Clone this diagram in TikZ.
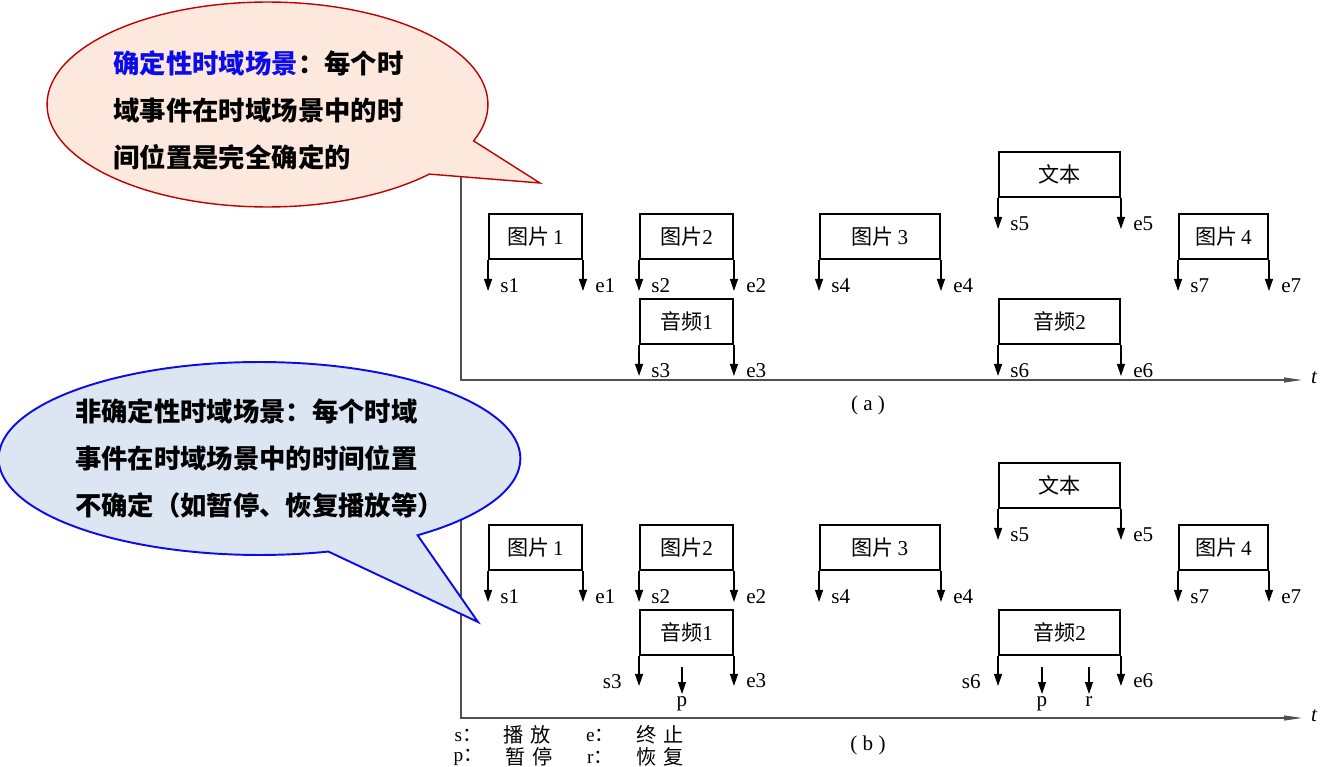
\documentclass[tikz,border=0pt]{standalone}
\usepackage{fontspec}
\setmainfont{Liberation Serif}
\newfontfamily\cjk{Noto Sans CJK SC}
\newfontfamily\cjkwide[LetterSpace=30]{Noto Sans CJK SC}
\usepackage{tikz}
\usetikzlibrary{arrows.meta,positioning,shapes.callouts}
\definecolor{cRed}{RGB}{192,0,0}
\definecolor{cPeach}{RGB}{252,232,220}
\definecolor{cBlue}{RGB}{12,12,235}
\definecolor{cSky}{RGB}{220,230,242}
\definecolor{cAxis}{RGB}{80,80,80}
\tikzset{
evbox/.style={rectangle,draw,line width=1.1pt,minimum width=1.86cm,minimum height=0.9cm,inner sep=0pt,font=\cjk\fontsize{12}{14}\selectfont},
tick/.style={-{Triangle[length=2.4mm,width=1.6mm]},line width=0.7pt},
axis/.style={draw=cAxis,line width=0.6pt},
lbl/.style={inner sep=1pt,font=\fontsize{12}{14}\selectfont},
slbl/.style={lbl,anchor=west,xshift=0.2cm,yshift=0.1cm},
wlbl/.style={lbl,anchor=east,xshift=-0.3cm,yshift=0.08cm},
legkey/.style={inner sep=0pt,font=\fontsize{11}{12}\selectfont},
legtxt/.style={inner sep=0pt,font=\cjkwide\fontsize{11.5}{12}\selectfont},
bubble/.style={ellipse callout,callout pointer arc=22,inner sep=0pt,align=left,font=\cjk\bfseries\fontsize{15}{26.7}\selectfont}
}

\begin{document}
\begin{tikzpicture}[x=0.02cm,y=-0.02cm]
\useasboundingbox (0,0) rectangle (1320,767);
% time axes
\coordinate (oa) at (461,380);
\coordinate (ob) at (461,718);
\draw[axis,-{Triangle[length=3.6mm,width=1mm]}] (461,176) -- (oa) -- (1302,380) coordinate (enda);
\draw[axis,-{Triangle[length=3.6mm,width=1mm]}] (461,400) -- (ob) -- (1302,718) coordinate (endb);
\node[lbl,font=\itshape\fontsize{12}{14}\selectfont] (ta) at (1314,378) {t};
\node[lbl,font=\itshape\fontsize{12}{14}\selectfont] (tb) at (1314,716) {t};
% media boxes, (a) and (b)
\foreach \p/\dy in {a/0,b/311}{
  \node[evbox] (img1\p) at (535.5,236.5+\dy) {图片{\rmfamily\,1}};
  \node[evbox] (img2\p) at (686.5,236.5+\dy) {图片{\rmfamily 2}};
  \node[evbox,minimum width=2.4cm] (img3\p) at (880,236.5+\dy) {图片{\rmfamily\,3}};
  \node[evbox,minimum width=2.42cm] (txt\p) at (1059.5,174.5+\dy) {文本};
  \node[evbox,minimum width=1.78cm] (img4\p) at (1223.5,236.5+\dy) {图片{\rmfamily\,4}};
  \node[evbox] (aud1\p) at (686.5,321.5+\dy) {音频{\rmfamily 1}};
  \node[evbox,minimum width=2.42cm] (aud2\p) at (1059.5,321.5+\dy) {音频{\rmfamily 2}};
}
% start / end events (a)
\foreach \n/\s/\e in {img1/s1/e1,img2/s2/e2,img3/s4/e4,txt/s5/e5,img4/s7/e7,aud1/s3/e3,aud2/s6/e6}{
  \draw[tick] (\n a.south west) -- ++(0,31) node[slbl]{\s};
  \draw[tick] (\n a.south east) -- ++(0,31) node[slbl]{\e};
}
% start / end events (b)
\foreach \n/\s/\e in {img1/s1/e1,img2/s2/e2,img3/s4/e4,txt/s5/e5,img4/s7/e7}{
  \draw[tick] (\n b.south west) -- ++(0,31) node[slbl]{\s};
  \draw[tick] (\n b.south east) -- ++(0,31) node[slbl]{\e};
}
\draw[tick] (aud1b.south west) -- ++(0,30) node[wlbl]{s3};
\draw[tick] (aud1b.south east) -- ++(0,30) node[slbl]{e3};
\draw[tick] (aud2b.south west) -- ++(0,30) node[wlbl]{s6};
\draw[tick] (aud2b.south east) -- ++(0,30) node[slbl]{e6};
% pause / resume
\coordinate (pause1) at (682,667);
\coordinate (pause2) at (1042,667);
\coordinate (resume2) at (1089,667);
\draw[tick] (pause1) -- ++(0,27) node[lbl,anchor=north]{p};
\draw[tick] (pause2) -- ++(0,27) node[lbl,anchor=north]{p};
\draw[tick] (resume2) -- ++(0,27) node[lbl,anchor=north]{r};
% captions and legend
\node[lbl] (capa) at (868,405) {( a )};
\node[lbl] (capb) at (868,745) {( b )};
\foreach \xk/\xv/\y/\kk/\vv in {468/527/735/s/播放,600/660/735/e/终止,468/529/757/p/暂停,600/660/757/r/恢复}{
  \node[legkey] (key\kk) at (\xk,\y) {\kk{\cjk ：}};
  \node[legtxt] (val\kk) at (\xv,\y) {\vv};
}
% callouts
\node[bubble,draw=cRed,line width=0.8pt,fill=cPeach,minimum width=8.82cm,minimum height=4.1cm,
  callout absolute pointer={(540,183)}] (det) at (267.5,104.5)
  {\rule{0pt}{20pt}\textcolor{cBlue}{确定性时域场景}：每个时\\域事件在时域场景中的时\rule{0.36cm}{0pt}\\间位置是完全确定的};
\node[bubble,draw=cBlue,line width=1.1pt,fill=cSky,minimum width=10.3cm,minimum height=3.86cm,
  callout absolute pointer={(478,622)}] (nondet) at (259.5,458.5)
  {非确定性时域场景：每个时域\\事件在时域场景中的时间位置\\不确定（如暂停、恢复播放等）};
\end{tikzpicture}
\end{document}
